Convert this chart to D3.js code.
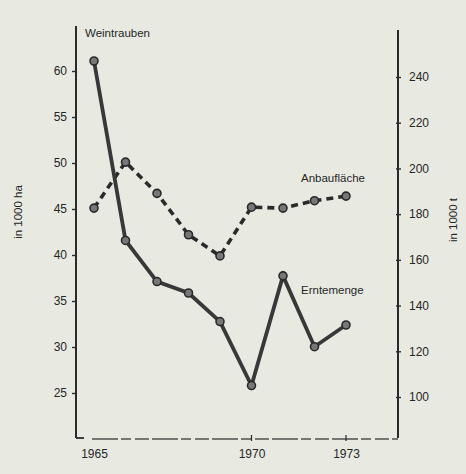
<!DOCTYPE html>
<html>
<head>
<meta charset="utf-8">
<script src="https://cdn.jsdelivr.net/npm/d3@7"></script>
<style>
  html, body { margin: 0; padding: 0; background: #e8eae2; }
  svg { display: block; }
  .lbl { font-family: "Liberation Sans", Arial, sans-serif; fill: #262626; }
  .tick text { font-family: "Liberation Sans", Arial, sans-serif; font-size: 12px; fill: #262626; }
  .tick line { stroke: #2e2e2e; stroke-width: 1.4px; }
  .domain { display: none; }
</style>
</head>
<body>
<div id="main"></div>
<script>
const years = [1965, 1966, 1967, 1968, 1969, 1970, 1971, 1972, 1973];
// Anbaufläche, in 1000 ha (left axis)
const anbau = [45.1, 50.1, 46.7, 42.2, 39.9, 45.2, 45.1, 45.9, 46.4];
// Erntemenge, in 1000 t (right axis)
const ernte = [247, 168.5, 150.5, 145.5, 133, 105, 153, 122, 131.5];

const leftTicks = [25, 30, 35, 40, 45, 50, 55, 60];
const rightTicks = [100, 120, 140, 160, 180, 200, 220, 240];
const xTicks = [1965, 1970, 1973];

const W = 466, H = 474;
const INK = "#2a2a2a";

const svg = d3.select("#main").append("svg").attr("width", W).attr("height", H);
svg.append("rect").attr("width", W).attr("height", H).attr("fill", "#e8eae2");

const x = d3.scaleLinear().domain([1965, 1973]).range([94, 346]);
const yL = d3.scaleLinear().domain([25, 60]).range([393, 71]);
const yR = d3.scaleLinear().domain([100, 240]).range([397, 77]);

// frame lines (scan look: bottom edge is broken)
const frame = svg.append("g").attr("stroke", INK).attr("fill", "none");
frame.append("line").attr("x1", 76).attr("x2", 76).attr("y1", 26).attr("y2", 438).attr("stroke-width", 2);
frame.append("line").attr("x1", 398).attr("x2", 398).attr("y1", 30).attr("y2", 438).attr("stroke-width", 2);
frame.append("line").attr("x1", 76).attr("x2", 84).attr("y1", 438).attr("y2", 438).attr("stroke-width", 1.8);
frame.append("line").attr("x1", 92).attr("x2", 398).attr("y1", 439).attr("y2", 439)
  .attr("stroke-width", 1.5).attr("stroke-dasharray", "26,3,10,4,14,3").attr("opacity", 0.8);

// left axis
svg.append("g")
  .attr("transform", "translate(76,0)")
  .call(d3.axisLeft(yL).tickValues(leftTicks).tickSize(4).tickPadding(5));

// right axis, ticks cross the line
svg.append("g")
  .attr("class", "raxis")
  .attr("transform", "translate(398,0)")
  .call(d3.axisRight(yR).tickValues(rightTicks).tickSize(3).tickPadding(8))
  .call(g => g.selectAll(".tick line").attr("x1", -2));

// bottom axis labels
svg.append("g")
  .attr("transform", "translate(0,439)")
  .call(d3.axisBottom(x).tickValues(xTicks).tickFormat(d3.format("d")).tickSize(0).tickPadding(10))
  .call(g => g.selectAll(".tick text").attr("font-size", "11.5px"));
svg.append("g").selectAll("line")
  .data([1970, 1973])
  .join("line")
  .attr("x1", d => x(d)).attr("x2", d => x(d))
  .attr("y1", 435).attr("y2", 441)
  .attr("stroke", INK).attr("stroke-width", 1.2);

// series
const lineL = d3.line().x((d, i) => x(years[i])).y(d => yL(d));
const lineR = d3.line().x((d, i) => x(years[i])).y(d => yR(d));

svg.append("path")
  .datum(anbau)
  .attr("d", lineL)
  .attr("fill", "none")
  .attr("stroke", INK)
  .attr("stroke-width", 3.6)
  .attr("stroke-dasharray", "7,5");

svg.append("path")
  .datum(ernte)
  .attr("d", lineR)
  .attr("fill", "none")
  .attr("stroke", "#383838")
  .attr("stroke-width", 3.8);

svg.append("g").selectAll("circle")
  .data(anbau)
  .join("circle")
  .attr("cx", (d, i) => x(years[i]))
  .attr("cy", d => yL(d))
  .attr("r", 4)
  .attr("fill", "#777")
  .attr("stroke", INK)
  .attr("stroke-width", 1.6);

svg.append("g").selectAll("circle")
  .data(ernte)
  .join("circle")
  .attr("cx", (d, i) => x(years[i]))
  .attr("cy", d => yR(d))
  .attr("r", 4)
  .attr("fill", "#777")
  .attr("stroke", INK)
  .attr("stroke-width", 1.6);

// labels
svg.append("text").attr("class", "lbl").attr("x", 85).attr("y", 37)
  .attr("font-size", "11.5px").text("Weintrauben");
svg.append("text").attr("class", "lbl").attr("x", 301).attr("y", 182)
  .attr("font-size", "11.5px").text("Anbaufläche");
svg.append("text").attr("class", "lbl").attr("x", 301).attr("y", 294)
  .attr("font-size", "11.5px").text("Erntemenge");

svg.append("text").attr("class", "lbl")
  .attr("transform", "translate(22,212) rotate(-90)")
  .attr("text-anchor", "middle").attr("font-size", "11.5px").text("in 1000 ha");
svg.append("text").attr("class", "lbl")
  .attr("transform", "translate(457,220) rotate(-90)")
  .attr("text-anchor", "middle").attr("font-size", "11.5px").text("in 1000 t");
</script>
</body>
</html>
